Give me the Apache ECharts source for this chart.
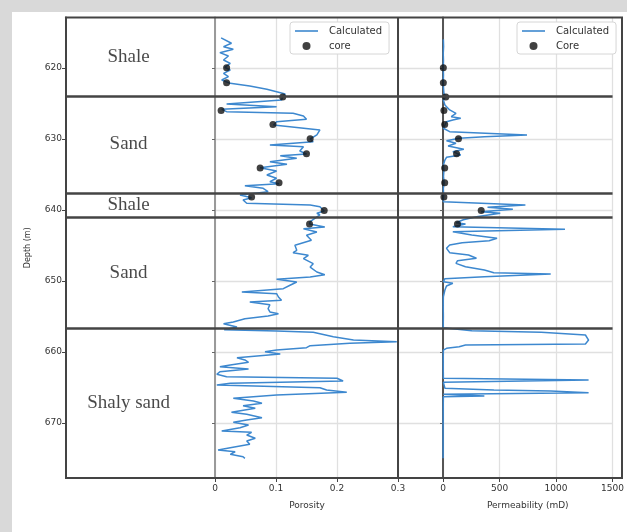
<!DOCTYPE html>
<html><head><meta charset="utf-8">
<script src="https://cdn.jsdelivr.net/npm/echarts@6/dist/echarts.min.js"></script>
<style>html,body{margin:0;padding:0;background:#d9d9d9}#c{width:627px;height:532px}</style>
</head><body><div id="c"></div>
<script>
// ---- data ----
const depthTicks = [620, 630, 640, 650, 660, 670];
const porosityTicks = [0, 0.1, 0.2, 0.3];
const permTicks = [0, 500, 1000, 1500];
const lithNames = ['Shale', 'Sand', 'Shale', 'Sand', 'Shaly sand'];
const lithBounds = [624.0, 637.6, 641.1, 656.7];

const coreDepth = [620.0, 622.1, 624.1, 626.0, 628.0, 630.0, 632.1, 634.1, 636.2, 638.2, 640.1, 642.0];
const corePorosity = [0.019, 0.019, 0.111, 0.010, 0.095, 0.156, 0.150, 0.074, 0.105, 0.060, 0.179, 0.155];
const corePerm = [3, 3, 25, 8, 15, 137, 120, 15, 15, 8, 338, 128];

// [depth, porosity]
const phiCalc = [
 [615.8,0.010],[616.08,0.008],[616.55,0.027],[617.03,0.014],[617.39,0.030],[617.87,0.008],[618.34,0.022],
 [618.9,0.014],[619.37,0.025],[619.93,0.016],[620.31,0.025],[620.78,0.014],[621.25,0.022],[621.72,0.011],
 [622.19,0.025],[622.56,0.057],[623.03,0.085],[623.37,0.101],[623.69,0.115],[624.07,0.111],[624.54,0.109],
 [624.77,0.107],[625.1,0.019],[625.48,0.101],[625.85,0.011],[626.18,0.019],[626.41,0.128],[626.79,0.145],
 [627.26,0.150],[627.59,0.101],[628.06,0.096],[628.76,0.172],[629.46,0.167],[630.03,0.156],[630.41,0.161],
 [630.87,0.090],[631.11,0.145],[631.72,0.139],[632.14,0.150],[632.38,0.107],[632.75,0.134],[633.22,0.090],
 [633.59,0.118],[634.07,0.074],[634.54,0.101],[635.1,0.085],[635.56,0.101],[636.04,0.090],[636.32,0.105],
 [636.6,0.049],[636.97,0.079],[637.45,0.087],[637.92,0.041],[638.29,0.060],[638.62,0.046],[639.08,0.052],
 [639.32,0.156],[639.56,0.172],[640.17,0.179],[640.49,0.167],[640.73,0.172],[641.67,0.156],[642.0,0.155],
 [642.42,0.180],[642.66,0.145],[643.13,0.167],[643.59,0.150],[644.3,0.158],[645.0,0.131],[645.71,0.134],
 [646.04,0.128],[646.41,0.153],[646.88,0.145],[647.59,0.161],[648.06,0.156],[648.76,0.167],[649.14,0.180],
 [649.46,0.156],[649.79,0.101],[650.17,0.134],[650.63,0.123],[651.11,0.112],[651.58,0.044],[651.82,0.101],
 [652.28,0.104],[652.75,0.109],[652.99,0.057],[653.36,0.090],[653.93,0.087],[654.39,0.090],[654.63,0.104],
 [654.96,0.087],[655.34,0.049],[655.8,0.030],[656.04,0.014],[656.5,0.036],[656.9,0.015],[657.07,0.101],
 [657.25,0.161],[657.87,0.194],[658.34,0.227],[658.58,0.298],[658.8,0.221],[659.14,0.156],[659.42,0.150],
 [659.75,0.101],[659.99,0.082],[660.31,0.107],[660.83,0.036],[661.15,0.049],[661.48,0.055],[661.86,0.025],
 [662.1,0.008],[662.42,0.055],[662.8,0.008],[663.17,0.003],[663.51,0.019],[663.73,0.200],[664.11,0.210],
 [664.44,0.025],[664.68,0.003],[665.06,0.172],[665.38,0.183],[665.7,0.216],[666.08,0.101],[666.55,0.030],
 [666.93,0.063],[667.25,0.077],[667.59,0.046],[667.96,0.066],[668.52,0.027],[668.8,0.052],[669.28,0.077],
 [669.6,0.052],[669.93,0.030],[670.31,0.055],[670.69,0.041],[671.15,0.011],[671.34,0.060],[671.72,0.052],
 [672.18,0.066],[672.56,0.052],[673.03,0.057],[673.51,0.025],[673.83,0.005],[674.07,0.033],[674.44,0.025],
 [674.77,0.046],[675.0,0.049]
];

// [depth, permeability mD]
const permCalc = [
 [616.0,3],[617.0,5],[618.0,2],[619.0,4],[620.0,2],[621.0,4],[622.0,2],[623.0,5],[623.6,8],[624.07,25],
 [624.54,3],[625.24,17],[625.94,59],[626.41,115],[626.89,73],[627.11,157],[627.35,87],[627.59,31],[628.06,17],
 [628.52,3],[629.0,59],[629.46,743],[629.7,366],[629.93,143],[630.27,31],[630.63,115],[631.01,45],[631.48,184],
 [631.81,87],[632.28,157],[632.61,31],[632.99,17],[633.69,3],[634.5,8],[635.3,4],[636.2,10],[637.0,3],[638.0,5],
 [638.86,3],[639.08,17],[639.32,729],[639.65,394],[639.93,618],[640.27,338],[640.49,506],[640.97,296],[641.4,180],
 [641.82,115],[642.0,199],[642.38,87],[642.75,1079],[643.08,87],[643.55,254],[644.01,478],[644.35,408],[644.63,170],
 [644.96,59],[645.42,31],[646.04,59],[646.37,226],[646.83,296],[647.17,129],[647.54,115],[648.01,199],[648.48,366],
 [648.86,450],[649.04,953],[649.42,366],[649.7,17],[650.13,3],[650.35,87],[650.73,31],[651.3,17],[652.24,3],
 [653.5,2],[655.0,3],[656.6,2],[657.03,254],[657.25,869],[657.63,1260],[658.34,1288],[658.9,1260],[659.04,199],
 [659.28,143],[659.51,31],[659.75,3],[661.5,2],[663.73,3],[663.97,1288],[664.3,3],[665.14,17],[665.38,450],
 [665.52,953],[665.76,1288],[665.99,3],[666.23,366],[666.32,3],[668.0,2],[671.0,1],[675.0,1]
];

// ---- layout / styles ----
const DMIN = 612.92, DMAX = 677.77;
const L = 66, T = 17.5, H = 460.5, X1 = 215, X2 = 443, R = 622;
const PHI_MAX = 0.3 * (X2 - X1) / (398 - X1);
const BLUE = '#3d88cf';
const FONT = 'DejaVu Sans';
const LINE_ICON = 'path://M0,0L23,0L23,1.6L0,1.6Z';

const chart = echarts.init(document.getElementById('c'), null, {renderer: 'canvas'});

function depthAxis(idx, extra) {
  return Object.assign({
    gridIndex: idx, type: 'value', inverse: true, min: DMIN, max: DMAX,
    axisLine: {show: false}, axisLabel: {show: false}, splitLine: {show: false},
    axisTick: {show: false}
  }, extra);
}

const boundaryLines = lithBounds.map(b => ({yAxis: b}));
const mlBase = {
  silent: true, symbol: ['none', 'none'], label: {show: false}, animation: false,
  lineStyle: {color: '#444', width: 2.5, type: 'solid'}, emphasis: {disabled: true}
};

const legendBase = {
  orient: 'vertical', itemWidth: 23, itemHeight: 8, itemGap: 5, padding: [4, 7, 3, 5],
  backgroundColor: '#fff', borderColor: '#d6d6d6', borderWidth: 1, borderRadius: 3,
  selectedMode: false, formatter: n => n.trim(), symbolKeepAspect: true,
  textStyle: {fontFamily: FONT, fontSize: 10, color: '#333', padding: [0, 0, 0, 6]}
};

const option = {
  backgroundColor: '#d9d9d9',
  animation: false,
  graphic: [
    {type: 'rect', z: -1, silent: true, shape: {x: 12, y: 12, width: 615, height: 520}, style: {fill: '#fff'}},
    {type: 'rect', z: 100, silent: true, shape: {x: L, y: T, width: R - L, height: H}, style: {fill: 'none', stroke: '#444', lineWidth: 2}}
  ],
  legend: [
    Object.assign({}, legendBase, {left: 290, top: 22, data: [{name: 'Calculated', icon: LINE_ICON}, {name: 'core', icon: 'circle'}]}),
    Object.assign({}, legendBase, {left: 517, top: 22, data: [{name: 'Calculated ', icon: LINE_ICON}, {name: 'Core', icon: 'circle'}]})
  ],
  grid: [
    {left: L, top: T, width: X1 - L, height: H},
    {left: X1, top: T, width: X2 - X1, height: H},
    {left: X2, top: T, width: R - X2, height: H}
  ],
  xAxis: [
    {gridIndex: 0, type: 'value', min: 0, max: 1, show: false},
    {gridIndex: 1, type: 'value', min: 0, max: PHI_MAX, position: 'bottom',
     axisLine: {show: false},
     axisTick: {show: true, customValues: porosityTicks, length: 4, lineStyle: {color: '#444'}},
     axisLabel: {customValues: porosityTicks, formatter: v => String(v), fontFamily: FONT, fontSize: 9, color: '#333', margin: 6},
     splitLine: {show: true, lineStyle: {color: '#e0e0e0', width: 1.3}},
     name: 'Porosity', nameLocation: 'middle', nameGap: 23,
     nameTextStyle: {fontFamily: FONT, fontSize: 9, color: '#333', padding: [0, 44, 0, 0]}},
    {gridIndex: 2, type: 'value', min: 0, max: 1500, interval: 500, position: 'bottom',
     axisLine: {show: false},
     axisTick: {show: true, customValues: permTicks, length: 4, lineStyle: {color: '#444'}},
     axisLabel: {customValues: permTicks, formatter: v => String(v), fontFamily: FONT, fontSize: 9, color: '#333', margin: 6},
     splitLine: {show: true, lineStyle: {color: '#e0e0e0', width: 1.3}},
     name: 'Permeability (mD)', nameLocation: 'middle', nameGap: 23,
     nameTextStyle: {fontFamily: FONT, fontSize: 9, color: '#333'}}
  ],
  yAxis: [
    depthAxis(0, {
      axisLine: {show: true, lineStyle: {color: '#444', width: 2}},
      axisTick: {show: true, customValues: depthTicks, length: 4, lineStyle: {color: '#444'}},
      axisLabel: {show: true, customValues: depthTicks, formatter: v => String(v), fontFamily: FONT, fontSize: 9, color: '#333', margin: 4},
      name: 'Depth (m)', nameLocation: 'middle', nameGap: 34, nameRotate: 90,
      nameTextStyle: {fontFamily: FONT, fontSize: 8, color: '#333'}
    }),
    depthAxis(1, {
      axisLine: {show: true, lineStyle: {color: '#9a9a9a', width: 2}},
      axisTick: {show: true, customValues: depthTicks, length: 3, lineStyle: {color: '#666'}},
      splitLine: {show: true, lineStyle: {color: '#e0e0e0', width: 1.3}}
    }),
    depthAxis(2, {
      axisLine: {show: true, lineStyle: {color: '#555', width: 2}},
      axisTick: {show: true, customValues: depthTicks, length: 3, lineStyle: {color: '#666'}},
      splitLine: {show: true, lineStyle: {color: '#e0e0e0', width: 1.3}}
    })
  ],
  series: [
    {
      name: 'lith', type: 'scatter', xAxisIndex: 0, yAxisIndex: 0, symbolSize: 1,
      itemStyle: {color: 'rgba(0,0,0,0)'}, silent: true, z: 5,
      data: lithNames.map((n, i) => {
        const top = i === 0 ? DMIN : lithBounds[i - 1];
        const bot = i === lithNames.length - 1 ? DMAX : lithBounds[i];
        return {name: n, value: [0.42, (top + bot) / 2]};
      }),
      label: {show: true, position: 'inside', formatter: '{b}', fontFamily: 'Liberation Serif', fontSize: 19, color: '#1a1a1a'},
      markLine: Object.assign({}, mlBase, {data: boundaryLines})
    },
    {
      name: 'Calculated', type: 'line', xAxisIndex: 1, yAxisIndex: 1, symbol: 'none', z: 3,
      lineStyle: {color: BLUE, width: 1.5}, itemStyle: {color: BLUE},
      data: phiCalc.map(p => [p[1], p[0]])
    },
    {
      name: 'core', type: 'scatter', xAxisIndex: 1, yAxisIndex: 1, symbolSize: 7, z: 4,
      itemStyle: {color: '#111'},
      data: coreDepth.map((d, i) => [corePorosity[i], d]),
      markLine: Object.assign({}, mlBase, {data: boundaryLines.concat([{xAxis: 0.3, lineStyle: {color: '#444', width: 2}}])})
    },
    {
      name: 'Calculated ', type: 'line', xAxisIndex: 2, yAxisIndex: 2, symbol: 'none', z: 3,
      lineStyle: {color: BLUE, width: 1.5}, itemStyle: {color: BLUE},
      data: permCalc.map(p => [p[1], p[0]])
    },
    {
      name: 'Core', type: 'scatter', xAxisIndex: 2, yAxisIndex: 2, symbolSize: 7, z: 4,
      itemStyle: {color: '#111'},
      data: coreDepth.map((d, i) => [corePerm[i], d]),
      markLine: Object.assign({}, mlBase, {data: boundaryLines})
    }
  ]
};
chart.setOption(option);
</script>
</body></html>
